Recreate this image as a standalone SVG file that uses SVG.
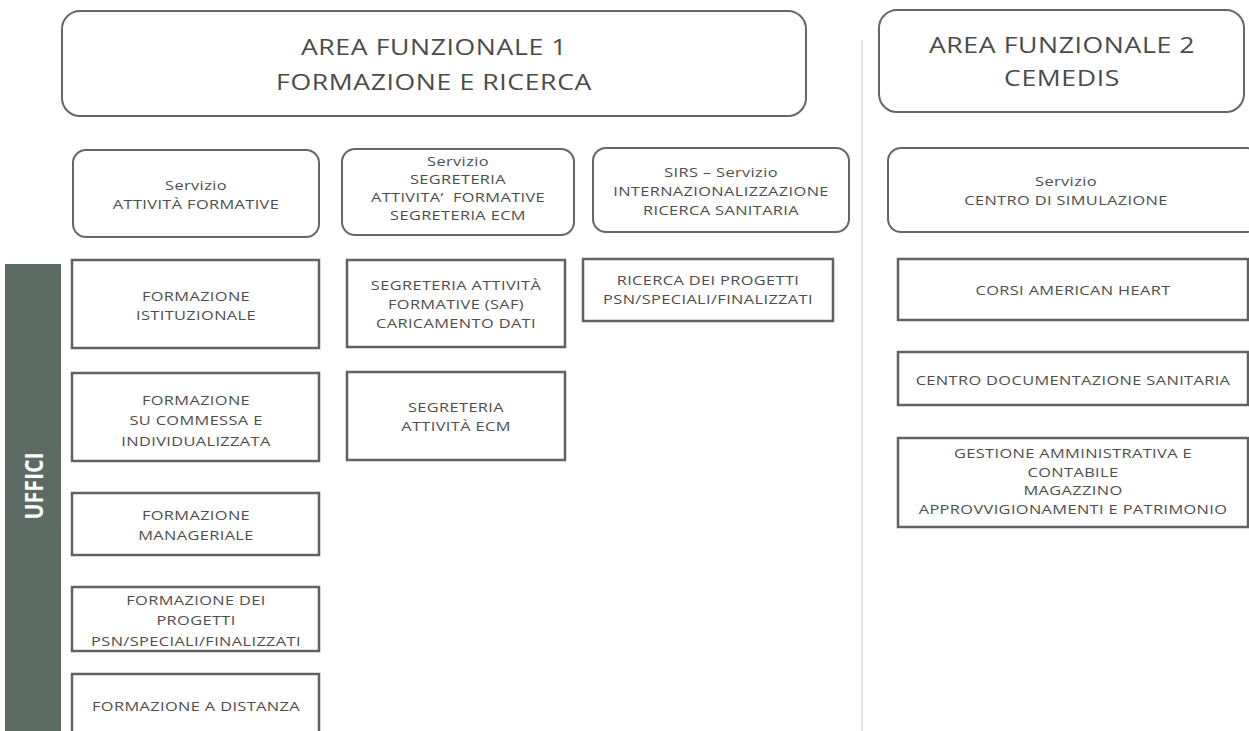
<svg xmlns="http://www.w3.org/2000/svg" width="1249" height="731" viewBox="0 0 1249 731">
<style>
.bg{fill:#ffffff}
.area{fill:#fff;stroke:#666;stroke-width:2}
.serv{fill:#fff;stroke:#666;stroke-width:2}
.uff{fill:#fff;stroke:#626262;stroke-width:2.5}
.t{font-family:"Open Sans","Liberation Sans",sans-serif;font-size:13px;fill:#4d4d4d;letter-spacing:0.3px;text-anchor:middle}
.tt{font-family:"Open Sans","Liberation Sans",sans-serif;font-size:22px;fill:#4a4a4a;letter-spacing:0.5px;text-anchor:middle}
.div{stroke:#dedede;stroke-width:1.5}
.bar{fill:#5c6b63}
.bart{font-family:"Open Sans","Liberation Sans",sans-serif;font-size:25px;font-weight:bold;fill:#fff;text-anchor:middle}
</style>
<rect class="bg" x="0" y="0" width="1249" height="731"/>
<g id="connectors">
<line class="div" x1="862" y1="40" x2="862" y2="731"/>
</g>
<g id="area1">
<rect class="area" x="62" y="11" width="744" height="105" rx="18"/>
<g transform="translate(434 0) scale(1.21 1)"><text class="tt" x="0" y="55">AREA FUNZIONALE 1</text><text class="tt" x="0" y="90">FORMAZIONE E RICERCA</text></g>
</g>
<g id="area2">
<rect class="area" x="879" y="10" width="365" height="102" rx="18"/>
<g transform="translate(1062 0) scale(1.21 1)"><text class="tt" x="0" y="53">AREA FUNZIONALE 2</text><text class="tt" x="0" y="86">CEMEDIS</text></g>
</g>
<g id="serv1">
<rect class="serv" x="73" y="150" width="246" height="87" rx="13"/>
<g transform="translate(196 0) scale(1.26 1)"><text class="t" x="0" y="190">Servizio</text><text class="t" x="0" y="209">ATTIVITÀ FORMATIVE</text></g>
</g>
<g id="serv2">
<rect class="serv" x="342" y="149" width="232" height="86" rx="13"/>
<g transform="translate(458 0) scale(1.26 1)"><text class="t" x="0" y="166">Servizio</text><text class="t" x="0" y="184">SEGRETERIA</text><text class="t" x="0" y="202" xml:space="preserve">ATTIVITA’  FORMATIVE</text><text class="t" x="0" y="220">SEGRETERIA ECM</text></g>
</g>
<g id="serv3">
<rect class="serv" x="593" y="148" width="256" height="84" rx="13"/>
<g transform="translate(721 0) scale(1.26 1)"><text class="t" x="0" y="177">SIRS – Servizio</text><text class="t" x="0" y="196">INTERNAZIONALIZZAZIONE</text><text class="t" x="0" y="215">RICERCA SANITARIA</text></g>
</g>
<g id="serv4">
<rect class="serv" x="888" y="148" width="372" height="84" rx="13"/>
<g transform="translate(1066 0) scale(1.26 1)"><text class="t" x="0" y="186">Servizio</text><text class="t" x="0" y="205">CENTRO DI SIMULAZIONE</text></g>
</g>
<g id="uffici-label">
<rect class="bar" x="5" y="264" width="56" height="467"/>
<text class="bart" transform="translate(43 486) rotate(-90) scale(0.85 1)" x="0" y="0">UFFICI</text>
</g>
<g id="u-istituzionale">
<rect class="uff" x="72" y="260" width="247" height="88"/>
<g transform="translate(196 0) scale(1.26 1)"><text class="t" x="0" y="301">FORMAZIONE</text><text class="t" x="0" y="320">ISTITUZIONALE</text></g>
</g>
<g id="u-commessa">
<rect class="uff" x="72" y="373" width="247" height="88"/>
<g transform="translate(196 0) scale(1.26 1)"><text class="t" x="0" y="405">FORMAZIONE</text><text class="t" x="0" y="425">SU COMMESSA E</text><text class="t" x="0" y="446">INDIVIDUALIZZATA</text></g>
</g>
<g id="u-manageriale">
<rect class="uff" x="72" y="493" width="247" height="62"/>
<g transform="translate(196 0) scale(1.26 1)"><text class="t" x="0" y="520">FORMAZIONE</text><text class="t" x="0" y="540">MANAGERIALE</text></g>
</g>
<g id="u-progetti">
<rect class="uff" x="72" y="587" width="247" height="64"/>
<g transform="translate(196 0) scale(1.26 1)"><text class="t" x="0" y="605">FORMAZIONE DEI</text><text class="t" x="0" y="625">PROGETTI</text><text class="t" x="0" y="646">PSN/SPECIALI/FINALIZZATI</text></g>
</g>
<g id="u-distanza">
<rect class="uff" x="72" y="674" width="247" height="70"/>
<g transform="translate(196 0) scale(1.26 1)"><text class="t" x="0" y="711">FORMAZIONE A DISTANZA</text></g>
</g>
<g id="u-saf">
<rect class="uff" x="347" y="260" width="218" height="87"/>
<g transform="translate(456 0) scale(1.26 1)"><text class="t" x="0" y="290">SEGRETERIA ATTIVITÀ</text><text class="t" x="0" y="309">FORMATIVE (SAF)</text><text class="t" x="0" y="328">CARICAMENTO DATI</text></g>
</g>
<g id="u-ecm">
<rect class="uff" x="347" y="372" width="218" height="88"/>
<g transform="translate(456 0) scale(1.26 1)"><text class="t" x="0" y="412">SEGRETERIA</text><text class="t" x="0" y="431">ATTIVITÀ ECM</text></g>
</g>
<g id="u-ricerca">
<rect class="uff" x="583" y="259" width="250" height="62"/>
<g transform="translate(708 0) scale(1.26 1)"><text class="t" x="0" y="285">RICERCA DEI PROGETTI</text><text class="t" x="0" y="304">PSN/SPECIALI/FINALIZZATI</text></g>
</g>
<g id="u-american">
<rect class="uff" x="898" y="259" width="350" height="61"/>
<g transform="translate(1073 0) scale(1.26 1)"><text class="t" x="0" y="295">CORSI AMERICAN HEART</text></g>
</g>
<g id="u-documentazione">
<rect class="uff" x="898" y="352" width="350" height="53"/>
<g transform="translate(1073 0) scale(1.26 1)"><text class="t" x="0" y="385">CENTRO DOCUMENTAZIONE SANITARIA</text></g>
</g>
<g id="u-gestione">
<rect class="uff" x="898" y="438" width="350" height="89"/>
<g transform="translate(1073 0) scale(1.26 1)"><text class="t" x="0" y="458">GESTIONE AMMINISTRATIVA E</text><text class="t" x="0" y="477">CONTABILE</text><text class="t" x="0" y="495">MAGAZZINO</text><text class="t" x="0" y="514">APPROVVIGIONAMENTI E PATRIMONIO</text></g>
</g>
</svg>
